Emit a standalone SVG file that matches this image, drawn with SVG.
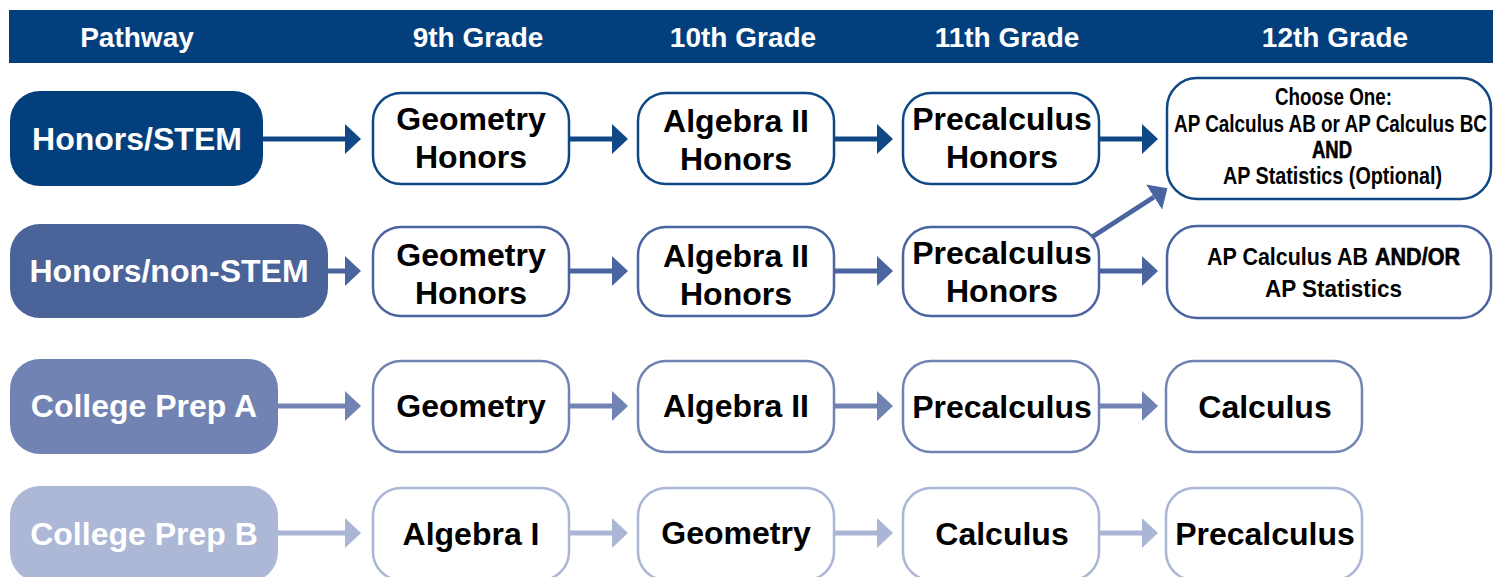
<svg xmlns="http://www.w3.org/2000/svg" width="1493" height="577" viewBox="0 0 1493 577">
<defs>
<style>
.hd{font-family:"Liberation Sans",Arial,sans-serif;font-weight:bold;font-size:28px;fill:#fff;text-anchor:middle}
.pw{font-family:"Liberation Sans",Arial,sans-serif;font-weight:bold;font-size:32px;fill:#fff;text-anchor:middle}
.ct{font-family:"Liberation Sans",Arial,sans-serif;font-weight:bold;font-size:32px;fill:#000;text-anchor:middle}
.cn{font-family:"Liberation Sans Narrow","Liberation Sans",Arial,sans-serif;font-weight:bold;font-size:23px;fill:#000}
.box{fill:#fff;stroke-width:2.5}
.r1{stroke:#0f4885}.r2{stroke:#4a64a0}.r3{stroke:#7083b3}.r4{stroke:#abb6d6}
.ln{fill:none;stroke-width:5}
</style>
<marker id="m1" viewBox="0 0 16 30" refX="0" refY="15" markerWidth="16" markerHeight="30" markerUnits="userSpaceOnUse" orient="auto"><path d="M0,0 L16,15 L0,30 Z" fill="#0f4885"/></marker>
<marker id="m2" viewBox="0 0 16 30" refX="0" refY="15" markerWidth="16" markerHeight="30" markerUnits="userSpaceOnUse" orient="auto"><path d="M0,0 L16,15 L0,30 Z" fill="#4a64a0"/></marker>
<marker id="m3" viewBox="0 0 16 30" refX="0" refY="15" markerWidth="16" markerHeight="30" markerUnits="userSpaceOnUse" orient="auto"><path d="M0,0 L16,15 L0,30 Z" fill="#7083b3"/></marker>
<marker id="m4" viewBox="0 0 16 30" refX="0" refY="15" markerWidth="16" markerHeight="30" markerUnits="userSpaceOnUse" orient="auto"><path d="M0,0 L16,15 L0,30 Z" fill="#abb6d6"/></marker>
</defs>
<rect width="1493" height="577" fill="#fff"/>
<g id="header">
<rect x="9" y="10" width="1484" height="53" fill="#043f7d"/>
<text class="hd" x="137" y="47">Pathway</text>
<text class="hd" x="478" y="47">9th Grade</text>
<text class="hd" x="743" y="47">10th Grade</text>
<text class="hd" x="1007" y="47">11th Grade</text>
<text class="hd" x="1335" y="47">12th Grade</text>
</g>
<g id="connectors">
<line class="ln" x1="263" y1="139" x2="345" y2="139" stroke="#0f4885" marker-end="url(#m1)"/>
<line class="ln" x1="569" y1="139" x2="612" y2="139" stroke="#0f4885" marker-end="url(#m1)"/>
<line class="ln" x1="834" y1="139" x2="877" y2="139" stroke="#0f4885" marker-end="url(#m1)"/>
<line class="ln" x1="1099" y1="139" x2="1142" y2="139" stroke="#0f4885" marker-end="url(#m1)"/>
<line class="ln" x1="328" y1="271" x2="345" y2="271" stroke="#4a64a0" marker-end="url(#m2)"/>
<line class="ln" x1="569" y1="271" x2="612" y2="271" stroke="#4a64a0" marker-end="url(#m2)"/>
<line class="ln" x1="834" y1="271" x2="877" y2="271" stroke="#4a64a0" marker-end="url(#m2)"/>
<line class="ln" x1="1099" y1="271" x2="1142" y2="271" stroke="#4a64a0" marker-end="url(#m2)"/>
<line class="ln" x1="1092" y1="237" x2="1154" y2="197" stroke="#4a64a0" marker-end="url(#m2)"/>
<line class="ln" x1="278" y1="406" x2="345" y2="406" stroke="#7083b3" marker-end="url(#m3)"/>
<line class="ln" x1="569" y1="406" x2="612" y2="406" stroke="#7083b3" marker-end="url(#m3)"/>
<line class="ln" x1="834" y1="406" x2="877" y2="406" stroke="#7083b3" marker-end="url(#m3)"/>
<line class="ln" x1="1099" y1="406" x2="1142" y2="406" stroke="#7083b3" marker-end="url(#m3)"/>
<line class="ln" x1="278" y1="533" x2="345" y2="533" stroke="#abb6d6" marker-end="url(#m4)"/>
<line class="ln" x1="569" y1="533" x2="612" y2="533" stroke="#abb6d6" marker-end="url(#m4)"/>
<line class="ln" x1="834" y1="533" x2="877" y2="533" stroke="#abb6d6" marker-end="url(#m4)"/>
<line class="ln" x1="1099" y1="533" x2="1142" y2="533" stroke="#abb6d6" marker-end="url(#m4)"/>
</g>
<g id="honors-stem">
<rect x="10" y="91" width="253" height="95" rx="30" fill="#043f7d"/>
<text class="pw" x="137" y="150">Honors/STEM</text>
</g>
<g id="geometry-honors-1">
<rect class="box r1" x="373" y="93" width="196" height="91" rx="28"/>
<text class="ct" x="471" y="130">Geometry</text>
<text class="ct" x="471" y="168">Honors</text>
</g>
<g id="algebra2-honors-1">
<rect class="box r1" x="638" y="93" width="196" height="91" rx="28"/>
<text class="ct" x="736" y="132">Algebra II</text>
<text class="ct" x="736" y="170">Honors</text>
</g>
<g id="precalc-honors-1">
<rect class="box r1" x="903" y="93" width="196" height="91" rx="28"/>
<text class="ct" x="1002" y="130">Precalculus</text>
<text class="ct" x="1002" y="168">Honors</text>
</g>
<g id="ap-choose-one">
<rect class="box r1" x="1167" y="78" width="324" height="121" rx="30"/>
<text class="cn" x="1275" y="105" textLength="117" lengthAdjust="spacingAndGlyphs">Choose One:</text>
<text class="cn" x="1174" y="132" textLength="313" lengthAdjust="spacingAndGlyphs">AP Calculus AB or AP Calculus BC</text>
<text class="cn" x="1312" y="158" textLength="40" lengthAdjust="spacingAndGlyphs" style="font-weight:900;stroke:#000;stroke-width:0.6">AND</text>
<text class="cn" x="1223" y="184" textLength="219" lengthAdjust="spacingAndGlyphs">AP Statistics (Optional)</text>
</g>
<g id="honors-non-stem">
<rect x="10" y="224" width="318" height="94" rx="30" fill="#4a6399"/>
<text class="pw" x="169" y="282">Honors/non-STEM</text>
</g>
<g id="geometry-honors-2">
<rect class="box r2" x="373" y="227" width="196" height="89" rx="28"/>
<text class="ct" x="471" y="266">Geometry</text>
<text class="ct" x="471" y="304">Honors</text>
</g>
<g id="algebra2-honors-2">
<rect class="box r2" x="638" y="227" width="196" height="89" rx="28"/>
<text class="ct" x="736" y="267">Algebra II</text>
<text class="ct" x="736" y="305">Honors</text>
</g>
<g id="precalc-honors-2">
<rect class="box r2" x="903" y="227" width="196" height="89" rx="28"/>
<text class="ct" x="1002" y="264">Precalculus</text>
<text class="ct" x="1002" y="302">Honors</text>
</g>
<g id="ap-calc-ab-stats">
<rect class="box r2" x="1167" y="226" width="324" height="92" rx="30"/>
<text class="cn" x="1207" y="265" textLength="161" lengthAdjust="spacingAndGlyphs">AP Calculus AB</text>
<text class="cn" x="1375" y="265" textLength="85" lengthAdjust="spacingAndGlyphs" style="font-weight:900;stroke:#000;stroke-width:0.6">AND/OR</text>
<text class="cn" x="1265" y="297" textLength="137" lengthAdjust="spacingAndGlyphs">AP Statistics</text>
</g>
<g id="college-prep-a">
<rect x="10" y="359" width="268" height="95" rx="30" fill="#7083b3"/>
<text class="pw" x="144" y="417">College Prep A</text>
</g>
<g id="geometry-a">
<rect class="box r3" x="373" y="361" width="196" height="91" rx="28"/>
<text class="ct" x="471" y="417">Geometry</text>
</g>
<g id="algebra2-a">
<rect class="box r3" x="638" y="361" width="196" height="91" rx="28"/>
<text class="ct" x="736" y="417">Algebra II</text>
</g>
<g id="precalc-a">
<rect class="box r3" x="903" y="361" width="196" height="91" rx="28"/>
<text class="ct" x="1002" y="418">Precalculus</text>
</g>
<g id="calculus-a">
<rect class="box r3" x="1166" y="361" width="196" height="91" rx="28"/>
<text class="ct" x="1265" y="418">Calculus</text>
</g>
<g id="college-prep-b">
<rect x="10" y="486" width="268" height="96" rx="30" fill="#adb7d6"/>
<text class="pw" x="144" y="545">College Prep B</text>
</g>
<g id="algebra1-b">
<rect class="box r4" x="373" y="488" width="196" height="92" rx="28"/>
<text class="ct" x="471" y="545">Algebra I</text>
</g>
<g id="geometry-b">
<rect class="box r4" x="638" y="488" width="196" height="92" rx="28"/>
<text class="ct" x="736" y="544">Geometry</text>
</g>
<g id="calculus-b">
<rect class="box r4" x="903" y="488" width="196" height="92" rx="28"/>
<text class="ct" x="1002" y="545">Calculus</text>
</g>
<g id="precalc-b">
<rect class="box r4" x="1166" y="488" width="196" height="92" rx="28"/>
<text class="ct" x="1265" y="545">Precalculus</text>
</g>
</svg>
